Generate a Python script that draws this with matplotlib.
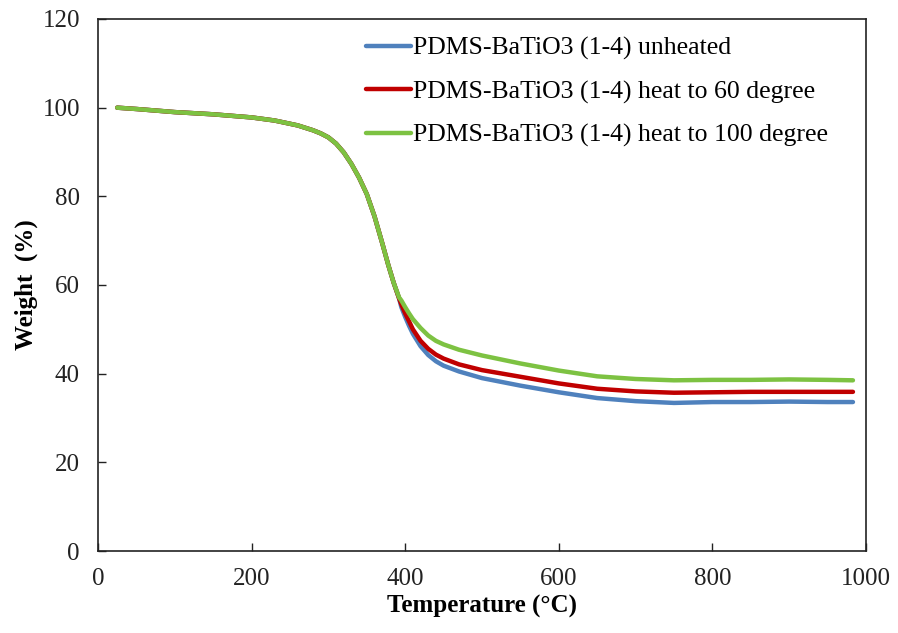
import matplotlib
matplotlib.use("Agg")
import matplotlib.pyplot as plt

# TGA data: temperature (°C) and residual weight (%)
temperature = [25, 50, 100, 150, 200, 230, 260, 280, 290, 300, 310, 320, 330,
               340, 350, 360, 370, 378, 385, 392, 395, 400, 405, 410, 420, 430,
               440, 450, 470, 500, 550, 600, 650, 700, 750, 800, 850, 900, 950,
               983]

weight_unheated = [100.0, 99.7, 99.0, 98.5, 97.8, 97.1, 96.0, 94.9, 94.2, 93.3,
                   91.9, 89.9, 87.3, 84.2, 80.5, 75.5, 69.5, 64.5, 60.5, 57.0,
                   55.0, 52.8, 50.8, 49.0, 46.2, 44.2, 42.8, 41.8, 40.5, 39.0,
                   37.3, 35.8, 34.5, 33.8, 33.4, 33.6, 33.6, 33.7, 33.6, 33.6]

weight_heat60 = [100.0, 99.7, 99.0, 98.5, 97.8, 97.1, 96.0, 94.9, 94.2, 93.3,
                 91.9, 89.9, 87.3, 84.2, 80.5, 75.5, 69.5, 64.5, 60.5, 57.0,
                 55.6, 53.6, 51.8, 50.0, 47.4, 45.6, 44.3, 43.4, 42.1, 40.8,
                 39.3, 37.8, 36.6, 36.0, 35.7, 35.8, 35.9, 35.9, 35.9, 35.9]

weight_heat100 = [100.0, 99.7, 99.0, 98.5, 97.8, 97.1, 96.0, 94.9, 94.2, 93.3,
                  91.9, 89.9, 87.3, 84.2, 80.5, 75.5, 69.5, 64.5, 60.5, 57.2,
                  56.5, 55.0, 53.6, 52.3, 50.3, 48.6, 47.4, 46.6, 45.4, 44.1,
                  42.3, 40.7, 39.4, 38.8, 38.5, 38.6, 38.6, 38.7, 38.6, 38.5]

series_labels = ["PDMS-BaTiO3 (1-4) unheated",
                 "PDMS-BaTiO3 (1-4) heat to 60 degree",
                 "PDMS-BaTiO3 (1-4) heat to 100 degree"]
series_colors = ["#4F81BD", "#C00000", "#7DC242"]

x_ticks = [0, 200, 400, 600, 800, 1000]
y_ticks = [0, 20, 40, 60, 80, 100, 120]

plt.rcParams["font.family"] = ["Liberation Serif", "DejaVu Serif"]

fig = plt.figure(figsize=(8.98, 6.33), dpi=100)
ax = fig.add_axes([98 / 898, 1 - 551 / 633, (866 - 98) / 898, (551 - 19) / 633])

for w, lab, col in zip([weight_unheated, weight_heat60, weight_heat100],
                       series_labels, series_colors):
    ax.plot(temperature, w, color=col, lw=3.2, label=lab,
            solid_capstyle="round", solid_joinstyle="round")

ax.set_xlim(0, 1000)
ax.set_ylim(0, 120)
ax.set_xticks(x_ticks)
ax.set_yticks(y_ticks)
ax.tick_params(direction="in", length=6, width=1, labelsize=18,
               colors="#222222")
ax.tick_params(axis="y", pad=13)
ax.tick_params(axis="x", pad=12)
for s in ax.spines.values():
    s.set_linewidth(1.2)
    s.set_color("#222222")

ax.set_xlabel("Temperature (°C)", fontsize=18, fontweight="bold", labelpad=4)
ax.set_ylabel("Weight  (%)", fontsize=18, fontweight="bold", labelpad=3)

leg = ax.legend(loc="upper left", bbox_to_anchor=(0.349, 0.967), frameon=False,
                fontsize=18.5, handlelength=1.75, handletextpad=0.08,
                labelspacing=0.79, borderpad=0, borderaxespad=0)

fig.savefig("out.png", dpi=100, facecolor="white")
